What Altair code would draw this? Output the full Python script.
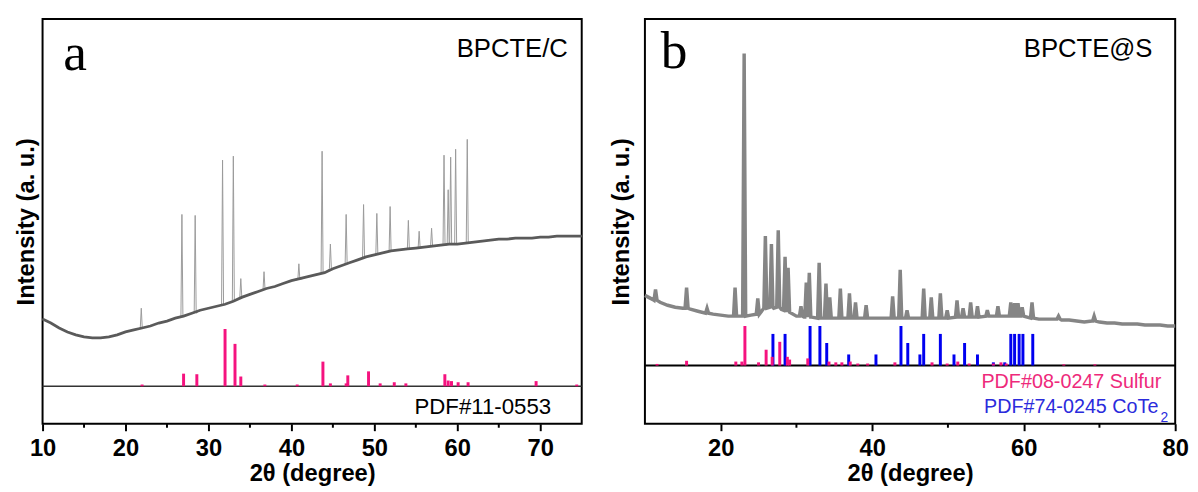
import altair as alt
import pandas as pd

# ---------------- Panel a : BPCTE/C ----------------
a_bg_x = list(range(10, 76))
a_bg_y = [106, 102, 97, 93, 90, 88, 87, 87, 88, 90,
          93, 95, 97, 99, 102, 104, 107, 109, 112, 115,
          117, 119, 121, 124, 128, 131, 134, 137, 139, 142,
          145, 147, 149, 151, 153, 157, 160, 163, 166, 169,
          171, 173, 175, 176, 177, 178, 179, 180, 181, 182,
          182, 183, 184, 185, 186, 187, 187, 188, 188, 188,
          189, 189, 190, 190, 190, 190]
a_pk_x = [21.9, 26.8, 28.4, 31.7, 33.0, 33.9, 36.7, 40.9, 43.7, 44.7, 46.6,
          48.7, 50.3, 51.9, 54.1, 55.4, 56.9, 58.4, 58.9, 59.2, 59.8, 61.2]
a_pk_top = [117, 212, 211, 267, 271, 147, 154, 162, 276, 182, 212,
            222, 213, 220, 206, 195, 198, 272, 237, 270, 278, 288]
a_pk_base = [97, 108, 112, 120, 124, 128, 136, 146, 152, 157, 162,
             168, 172, 175, 177, 178, 180, 181, 181, 182, 182, 183]
a_st_x = [22.0, 27.0, 28.6, 32.0, 33.2, 33.9, 36.8, 40.7, 43.8, 44.7, 46.6, 46.8,
          49.3, 50.7, 52.4, 53.8, 58.5, 58.9, 59.3, 60.1, 61.3, 69.5, 74.4]
a_st_rel = [3, 22, 21, 100, 74, 17, 3, 3, 43, 5, 5, 19,
            26, 5, 7, 5, 21, 10, 9, 7, 7, 9, 3]
a_base = 38
a_major = [10, 20, 30, 40, 50, 60, 70]
a_minor = [15, 25, 35, 45, 55, 65]

# ---------------- Panel b : BPCTE@S ----------------
b_bg_x = list(range(10, 81))
b_bg_y = [130, 126, 123, 120, 118, 117, 116, 114, 112, 111,
          110, 109, 109, 109, 110, 112, 116, 117, 116, 112,
          109, 108, 108, 107, 107, 107, 107, 107, 107, 107,
          107, 107, 107, 107, 107, 107, 107, 107, 107, 107,
          108, 108, 108, 108, 108, 109, 109, 109, 109, 109,
          107, 107, 106, 106, 106, 105, 105, 104, 103, 104,
          103, 102, 102, 101, 101, 101, 100, 100, 100, 99, 99]
b_pk_x = [11.4, 15.5, 18.2, 21.9, 23.1, 24.9, 25.9, 26.7, 27.6, 28.5, 28.9,
          30.6, 31.3, 31.7, 33.0, 33.9, 34.4, 35.8, 37.0, 37.8, 39.2, 42.7,
          43.7, 44.6, 46.8, 47.8, 49.0, 49.9, 51.2, 52.0, 53.0, 53.9, 55.2,
          56.6, 58.3, 58.8, 59.25, 59.8, 61.1, 64.6, 69.3]
b_pk_top = [136, 138, 117, 138, 375, 127, 190, 182, 196, 169, 158,
            119, 143, 153, 163, 142, 128, 137, 132, 123, 120, 129,
            156, 115, 137, 128, 132, 115, 125, 117, 123, 119, 115,
            119, 123, 122, 122, 118, 123, 109, 109]
b_pk_base = [125, 117, 112, 109, 109, 111, 117, 118, 118, 115, 113,
             109, 108, 108, 107, 107, 107, 107, 107, 107, 107, 107,
             107, 107, 107, 107, 107, 107, 108, 108, 108, 108, 109,
             109, 109, 109, 109, 109, 107, 106, 104]
s_st_x = [11.6, 15.5, 22.0, 22.8, 23.2, 25.0, 26.0, 26.8, 27.8, 28.8, 29.1, 31.5,
          34.3, 35.2, 36.0, 37.1, 38.1, 39.4, 43.0, 47.9, 49.9, 51.3, 52.8, 56.0,
          57.0, 57.7, 65.3, 69.4]
s_st_rel = [4, 12, 10, 10, 100, 8, 40, 22, 60, 22, 15, 18,
            10, 8, 8, 10, 5, 5, 8, 8, 5, 10, 5, 5,
            8, 5, 3, 3]
c_st_x = [26.9, 28.5, 31.8, 33.1, 34.0, 36.9, 40.5, 43.8, 44.7, 46.3, 46.8,
          49.0, 50.8, 52.2, 53.9, 56.0, 57.5, 58.3, 58.8, 59.4, 59.9, 61.2]
c_st_rel = [80, 80, 100, 100, 57, 28, 28, 100, 57, 28, 80,
            80, 28, 57, 28, 8, 8, 80, 80, 80, 80, 80]
b_base = 59
b_major = [20, 40, 60, 80]
b_minor = [30, 50, 70]

PINK = "#f5137f"
BLUE = "#0000f0"
FONT = "Liberation Sans"


def spectrum(bx, by, px, pt, pb, hw):
    pts = []
    for x, y in zip(bx, by):
        if all(abs(x - p) > hw + 0.05 for p in px):
            pts.append((x, y))
    for p, t, b in zip(px, pt, pb):
        pts += [(p - hw, b), (p, t), (p + hw, b)]
    pts.sort()
    return pd.DataFrame(pts, columns=["x", "y"])


def sticks(xs, rel, base, k):
    return pd.DataFrame({"x": xs, "top": [base + r * k for r in rel], "base": [base] * len(xs)})


def xaxis(values):
    return alt.Axis(values=values, title="2θ (degree)", grid=False, domain=False,
                    tickColor="black", tickWidth=2, tickSize=7,
                    labelFont=FONT, labelFontSize=24, labelFontWeight="bold",
                    labelColor="black", labelPadding=6, labelFlush=False,
                    titleFont=FONT, titleFontSize=24, titleFontWeight="bold",
                    titleColor="black", titlePadding=1)


def yaxis(pad):
    return alt.Axis(title="Intensity (a. u.)", ticks=False, labels=False, domain=False,
                    grid=False, titleFont=FONT, titleFontSize=24, titleFontWeight="bold",
                    titleColor="black", titlePadding=pad)


def text(label, x, y, size, color="black", align="left", font=FONT):
    return alt.Chart(pd.DataFrame({"t": [label]})).mark_text(
        font=font, fontSize=size, color=color, align=align, baseline="alphabetic"
    ).encode(text="t:N", x=alt.value(x), y=alt.value(y))


H = 410
ys = alt.Scale(domain=[0, 410], nice=False, zero=False)

# ----- panel a -----
xa = alt.Scale(domain=[10, 75], nice=False, zero=False)
spec_a = spectrum(a_bg_x, a_bg_y, a_pk_x, a_pk_top, a_pk_base, 0.12)
bg_a = pd.DataFrame({"x": a_bg_x, "y": a_bg_y})

a_line = alt.Chart(spec_a).mark_line(color="#9a9a9a", strokeWidth=1).encode(
    x=alt.X("x:Q", scale=xa, axis=xaxis(a_major)),
    y=alt.Y("y:Q", scale=ys, axis=yaxis(4)))
a_bgl = alt.Chart(bg_a).mark_line(color="#5a5a5a", strokeWidth=2.8).encode(
    x=alt.X("x:Q", scale=xa), y=alt.Y("y:Q", scale=ys))
a_st = alt.Chart(sticks(a_st_x, a_st_rel, a_base, 0.58)).mark_rule(color=PINK, strokeWidth=3).encode(
    x=alt.X("x:Q", scale=xa), y=alt.Y("top:Q", scale=ys), y2="base:Q")
a_bl = alt.Chart(pd.DataFrame({"y": [a_base]})).mark_rule(color="#333333", strokeWidth=1.5).encode(
    y=alt.Y("y:Q", scale=ys))
a_mt = alt.Chart(pd.DataFrame({"x": a_minor})).mark_rule(color="black", strokeWidth=2).encode(
    x=alt.X("x:Q", scale=xa), y=alt.value(H), y2=alt.value(H + 4))

panel_a = alt.layer(
    a_line, a_bgl, a_bl, a_st, a_mt,
    text("a", 21, 52, 54, font="Liberation Serif"),
    text("BPCTE/C", 532, 39, 26, align="right"),
    text("PDF#11-0553", 515, 400, 22.5, align="right"),
).properties(width=546, height=H)

# ----- panel b -----
xb = alt.Scale(domain=[10, 80], nice=False, zero=False)
spec_b = spectrum(b_bg_x, b_bg_y, b_pk_x, b_pk_top, b_pk_base, 0.2)

b_line = alt.Chart(spec_b).mark_line(color="#858585", strokeWidth=3.5).encode(
    x=alt.X("x:Q", scale=xb, axis=xaxis(b_major)),
    y=alt.Y("y:Q", scale=ys, axis=yaxis(12)))
b_cst = alt.Chart(sticks(c_st_x, c_st_rel, b_base, 0.40)).mark_rule(color=BLUE, strokeWidth=3).encode(
    x=alt.X("x:Q", scale=xb), y=alt.Y("top:Q", scale=ys), y2="base:Q")
b_sst = alt.Chart(sticks(s_st_x, s_st_rel, b_base, 0.40)).mark_rule(color=PINK, strokeWidth=3).encode(
    x=alt.X("x:Q", scale=xb), y=alt.Y("top:Q", scale=ys), y2="base:Q")
b_bl = alt.Chart(pd.DataFrame({"y": [b_base]})).mark_rule(color="black", strokeWidth=2).encode(
    y=alt.Y("y:Q", scale=ys))
b_mt = alt.Chart(pd.DataFrame({"x": b_minor})).mark_rule(color="black", strokeWidth=2).encode(
    x=alt.X("x:Q", scale=xb), y=alt.value(H), y2=alt.value(H + 4))

panel_b = alt.layer(
    b_line, b_bl, b_cst, b_sst, b_mt,
    text("b", 16, 50, 54, font="Liberation Serif"),
    text("BPCTE@S", 514, 39, 26, align="right"),
    text("PDF#08-0247 Sulfur", 523, 374, 20, color="#ee2a7b", align="right"),
    text("PDF#74-0245 CoTe", 520, 399, 20, color="#2b2bdc", align="right"),
    text("2", 522, 408, 14, color="#2b2bdc"),
).properties(width=537, height=H)

chart = alt.hconcat(panel_a, panel_b, spacing=20).properties(
    padding={"left": 6, "top": 7, "right": 0, "bottom": 0}
).configure_view(stroke="black", strokeWidth=2)

chart.save("out.html", embed_options={"renderer": "svg", "actions": False})
